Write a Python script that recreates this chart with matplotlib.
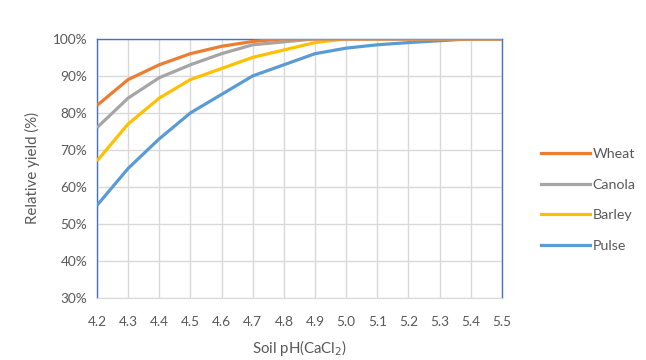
import matplotlib
matplotlib.use("Agg")
import matplotlib.pyplot as plt
from matplotlib.lines import Line2D

ph = [4.2, 4.3, 4.4, 4.5, 4.6, 4.7, 4.8, 4.9, 5.0, 5.1, 5.2, 5.3, 5.4, 5.5]
wheat = [82, 89, 93, 96, 98, 99.3, 100, 100, 100, 100, 100, 100, 100, 100]
canola = [76, 84, 89.5, 93, 96, 98.4, 99.2, 100, 100, 100, 100, 100, 100, 100]
barley = [67, 77, 84, 89, 92, 95, 97, 99, 100, 100, 100, 100, 100, 100]
pulse = [55, 65, 73, 80, 85, 90, 93, 96, 97.5, 98.4, 99, 99.5, 100, 100]
series = [("Wheat", wheat, "#ED7D31"), ("Canola", canola, "#A5A5A5"),
          ("Barley", barley, "#FFC000"), ("Pulse", pulse, "#5B9BD5")]
yticks = [30, 40, 50, 60, 70, 80, 90, 100]

plt.rcParams['font.family'] = ['Lato', 'DejaVu Sans']
txt = "#595959"

fig = plt.figure(figsize=(6.46, 3.6), dpi=100)
ax = fig.add_axes([0.150, 0.172, 0.627, 0.720])

for name, vals, col in series[::-1]:
    ax.plot(ph, vals, color=col, lw=2.3, solid_capstyle='butt', zorder=3)

ax.set_xlim(4.2, 5.5)
ax.set_ylim(30, 100)
ax.set_xticks(ph)
ax.set_xticklabels([f"{v:.1f}" for v in ph])
ax.set_yticks(yticks)
ax.set_yticklabels([f"{v}%" for v in yticks])
ax.grid(True, color="#D9D9D9", lw=1)
ax.set_axisbelow(True)
ax.tick_params(length=0, labelsize=9.8, colors=txt, pad=7)
ax.tick_params(axis='x', pad=13)
for s in ['left', 'right', 'top']:
    ax.spines[s].set_color("#4472C4")
    ax.spines[s].set_linewidth(1)
ax.spines['bottom'].set_color("#D9D9D9")
ax.set_ylabel("Relative yield (%)", fontsize=10.8, color=txt, labelpad=9)
ax.set_xlabel("Soil pH(CaCl$_2$)", fontsize=10.8, color=txt, labelpad=7)

handles = [Line2D([0], [0], color=c, lw=2.3) for _, _, c in series]
labels = [n for n, _, _ in series]
leg = fig.legend(handles, labels, loc='center left', bbox_to_anchor=(0.818, 0.444),
                 frameon=False, fontsize=10.3, handlelength=3.4, handletextpad=0.2,
                 labelspacing=1.3, labelcolor=txt)

fig.savefig("out.png", dpi=100)
